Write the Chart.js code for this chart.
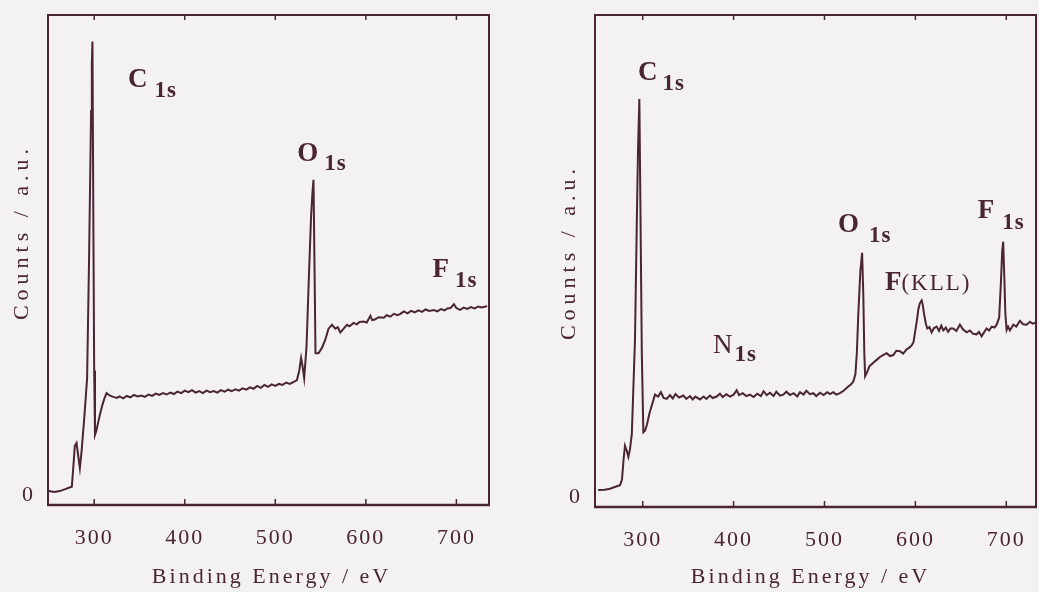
<!DOCTYPE html>
<html>
<head>
<meta charset="utf-8">
<title>XPS survey spectra</title>
<script src="https://cdn.jsdelivr.net/npm/chart.js@4.4.1/dist/chart.umd.min.js"></script>
<style>
  html, body { margin: 0; padding: 0; background: #f4f1f4; }
  #wrap { position: relative; width: 1039px; height: 592px; overflow: hidden; }
  canvas { position: absolute; top: 0; }
  #leftChart { left: 0; }
  #rightChart { left: 520px; }
</style>
</head>
<body>
<div id="wrap">
  <canvas id="leftChart" width="520" height="592"></canvas>
  <canvas id="rightChart" width="519" height="592"></canvas>
</div>
<script>
// axis ticks
const xTicks = [300, 400, 500, 600, 700];
const yTicks = [0];

// left spectrum: binding energy (eV) / counts (a.u.)
const leftEnergy = [
  250, 256, 262, 268, 272, 275.3, 277, 278.6, 280.5, 282.4,
  284.2, 286, 289, 292.2, 294.4, 296.6, 297.4, 298.1, 299, 300,
  300.9, 302.5, 304.5, 306.3, 309, 311.5, 313.7, 317, 321, 325,
  328, 332, 336, 340, 344, 348, 352, 356, 360, 364,
  368, 372, 376, 380, 384, 388, 392, 396, 400, 404,
  408, 412, 416, 420, 424, 428, 432, 436, 440, 444,
  448, 452, 456, 460, 464, 468, 472, 476, 480, 484,
  488, 492, 496, 500, 504, 508, 512, 516, 520, 523.9,
  526.5, 528.5, 530, 531.9, 534.5, 537, 539.5, 541, 542.2, 543.3,
  544.4, 547.7, 551.5, 555.2, 558.8, 562.6, 566.3, 569, 571.8, 575,
  579.2, 582, 586.5, 590, 593, 597.6, 601, 605, 607, 610,
  614, 619.8, 623, 627, 631, 635, 638.2, 642, 646, 650,
  654, 658, 662, 666, 670, 675, 679, 683, 687, 690,
  693.5, 697.2, 700, 704, 708, 712, 716, 720, 724, 728,
  734
];
const leftCounts = [
  0.9, 0.7, 0.9, 1.3, 1.6, 1.8, 6.0, 10.3, 10.9, 8.2,
  5.7, 9.0, 16.0, 24.4, 50.0, 80.0, 90.0, 94.5, 60.0, 26.0,
  12.6, 13.5, 15.3, 16.8, 18.8, 20.3, 21.3, 20.8, 20.5, 20.3,
  20.6, 20.2, 20.7, 20.4, 20.9, 20.6, 20.8, 20.5, 21.0, 20.7,
  21.2, 20.9, 21.3, 21.0, 21.4, 21.1, 21.6, 21.3, 21.8, 21.5,
  21.9, 21.4, 21.7, 21.3, 21.8, 21.5, 21.7, 21.4, 21.9, 21.6,
  22.0, 21.7, 22.1, 21.8, 22.3, 22.0, 22.5, 22.2, 22.8, 22.4,
  23.0, 22.6, 23.1, 22.8, 23.2, 23.0, 23.5, 23.2, 23.6, 24.0,
  26.0, 28.6, 27.0, 24.4, 31.0, 45.0, 58.0, 63.0, 65.7, 48.0,
  29.6, 29.6, 30.7, 32.4, 34.7, 35.5, 34.7, 35.0, 33.9, 34.6,
  35.5, 35.2, 35.9, 35.6, 36.1, 36.2, 36.0, 37.4, 36.5, 36.6,
  37.1, 37.0, 37.5, 37.2, 37.8, 37.5, 37.8, 38.3, 37.9, 38.4,
  38.1, 38.5, 38.2, 38.7, 38.4, 38.6, 38.3, 38.8, 38.5, 38.9,
  39.0, 39.8, 39.0, 38.6, 39.1, 38.8, 39.2, 38.9, 39.3, 39.1,
  39.4
];

// right spectrum
const rightEnergy = [
  251, 258, 264, 270, 275, 277.2, 279, 280.5, 282.7, 284.2,
  286, 288, 291.5, 293.4, 294.8, 296.3, 297.5, 299, 300.7, 302.5,
  304.7, 307.5, 310.2, 313.5, 317, 320, 323, 326.4, 330, 333,
  336, 340, 344.7, 348, 352, 355, 358, 363, 367, 370,
  374, 377, 381.4, 385, 388, 392, 396, 400, 403.4, 406,
  410, 414, 418, 422, 426, 430, 433, 436.4, 440, 444,
  447, 451, 454.7, 458, 462, 466, 470, 473, 477, 480,
  484, 487.7, 491, 495, 499, 503, 506, 509.7, 513, 517,
  521, 524, 526.2, 529, 531.7, 534, 535.6, 537.2, 539.5, 541.4,
  542.7, 543.8, 544.7, 547, 549.5, 553.7, 557.4, 561, 564.5, 568.4,
  572, 575.7, 579, 583, 586.5, 590.4, 593, 595.9, 598, 599.6,
  601.5, 603.2, 604.8, 606.9, 608, 609.5, 611.5, 613.1, 615.5, 617.9,
  620.5, 623.4, 626, 628.5, 630.7, 633.5, 636, 638.5, 641.7, 645,
  649, 652.5, 656.4, 660, 663.5, 667.4, 670, 672.9, 675.5, 678.4,
  681, 684, 687, 689.4, 692.2, 694.2, 695.5, 696.6, 697.8, 699,
  700.4, 702, 704, 707.7, 711, 715, 718.5, 722.4, 726, 729,
  731.6
];
const rightCounts = [
  1.5, 1.6, 1.8, 2.2, 2.5, 3.7, 8.0, 10.7, 9.5, 8.4,
  10.0, 13.1, 32.7, 56.0, 71.8, 82.6, 60.0, 30.0, 13.5, 13.8,
  15.1, 17.5, 19.2, 21.3, 20.9, 21.8, 20.6, 20.4, 21.2, 20.5,
  21.4, 20.7, 21.1, 20.4, 21.0, 20.3, 20.9, 20.3, 20.9, 20.4,
  21.1, 20.6, 20.9, 21.5, 20.8, 21.4, 20.9, 21.3, 22.2, 21.2,
  21.6, 21.0, 21.3, 20.8, 21.5, 21.0, 22.0, 21.2, 21.7, 21.0,
  21.9, 21.1, 21.3, 21.9, 21.2, 21.6, 20.9, 21.8, 21.3, 22.1,
  21.4, 21.6, 21.0, 21.7, 21.2, 21.8, 21.4, 21.8, 21.3, 21.6,
  22.1, 22.6, 23.0, 23.4, 24.0, 25.5, 30.0, 38.0, 47.0, 50.7,
  42.0, 30.0, 25.1, 26.0, 27.2, 27.9, 28.5, 29.1, 29.5, 29.9,
  29.3, 29.5, 30.4, 30.3, 29.8, 30.7, 31.0, 31.5, 32.2, 34.2,
  36.5, 38.9, 40.2, 40.8, 40.0, 38.1, 36.0, 35.0, 35.3, 34.2,
  35.1, 35.4, 34.5, 35.6, 34.6, 35.2, 34.3, 35.0, 35.0, 34.5,
  35.8, 34.8, 34.2, 34.6, 33.9, 33.8, 34.3, 33.4, 34.2, 35.0,
  34.6, 35.4, 35.2, 35.8, 37.3, 45.0, 51.0, 53.0, 46.0, 38.0,
  34.7, 35.4, 34.6, 35.8, 35.4, 36.6, 35.9, 35.8, 36.4, 36.0,
  36.2
];

// peak assignments, anchored in eV / counts
const leftPeaks = [
  { main: 'C', sub: '1s', x: 337.3, y: 85.0, gap: 7, drop: 10 },
  { main: 'O', sub: '1s', x: 524.2, y: 69.6, gap: 6, drop: 9 },
  { main: 'F', sub: '1s', x: 673.6, y: 45.5, gap: 6, drop: 10 }
];
const rightPeaks = [
  { main: 'C', sub: '1s', x: 294.8, y: 86.5, gap: 5, drop: 10 },
  { main: 'N', sub: '1s', x: 377.4, y: 30.0, gap: 2, drop: 8, plain: true },
  { main: 'O', sub: '1s', x: 514.9, y: 55.1, gap: 10, drop: 10 },
  { main: 'F', sub: '(KLL)', x: 566.5, y: 43.0, gap: 0, drop: 0, small: true },
  { main: 'F', sub: '1s', x: 668.7, y: 58.0, gap: 8, drop: 11 }
];

const ink = '#4a2532';
const serif = '"Liberation Serif", "Times New Roman", serif';

function drawPeakLabel(ctx, px, py, p) {
  ctx.letterSpacing = '0px';
  ctx.font = (p.plain ? '' : 'bold ') + '27px ' + serif;
  ctx.fillText(p.main, px, py);
  const w = ctx.measureText(p.main).width;
  ctx.font = (p.small ? '' : 'bold ') + '23px ' + serif;
  ctx.letterSpacing = p.small ? '2px' : '1px';
  ctx.fillText(p.sub, px + w + p.gap, py + p.drop);
}

// box frame, inward ticks, peak labels and spaced axis titles
const framePlugin = {
  id: 'frame',
  beforeDraw(chart) {
    chart.ctx.letterSpacing = '2px';
  },
  afterDraw(chart, args, opts) {
    const { ctx, chartArea: a, scales: { x, y } } = chart;
    ctx.save();
    ctx.strokeStyle = ink;
    ctx.lineWidth = 2;
    ctx.strokeRect(a.left, a.top, a.width, a.height);
    ctx.lineWidth = 2.6;
    ctx.beginPath();
    ctx.moveTo(a.left - 1, a.bottom);
    ctx.lineTo(a.right + 1, a.bottom);
    ctx.stroke();

    ctx.lineWidth = 1.5;
    ctx.beginPath();
    x.ticks.forEach(t => {
      const px = x.getPixelForValue(t.value);
      ctx.moveTo(px, a.bottom);
      ctx.lineTo(px, a.bottom - 6);
      ctx.moveTo(px, a.top);
      ctx.lineTo(px, a.top + 5);
    });
    ctx.stroke();

    ctx.fillStyle = ink;
    ctx.textAlign = 'left';
    ctx.textBaseline = 'alphabetic';
    (opts.peaks || []).forEach(p => {
      drawPeakLabel(ctx, x.getPixelForValue(p.x), y.getPixelForValue(p.y), p);
    });

    ctx.font = '22px ' + serif;
    ctx.letterSpacing = '3px';
    ctx.textAlign = 'center';
    ctx.textBaseline = 'middle';
    ctx.fillText('Binding Energy / eV', (a.left + a.right) / 2 + opts.xTitleShift, 577);

    ctx.letterSpacing = '5px';
    ctx.translate(a.left - 26, (a.top + a.bottom) / 2 + opts.yTitleShift);
    ctx.rotate(-Math.PI / 2);
    ctx.fillText('Counts / a.u.', 0, 0);
    ctx.restore();
  }
};

function makeSpectrum(id, energy, counts, o) {
  const points = energy.map((e, i) => ({ x: e, y: counts[i] }));
  return new Chart(document.getElementById(id), {
    type: 'line',
    data: {
      datasets: [{
        data: points,
        borderColor: ink,
        borderWidth: 2,
        pointRadius: 0,
        tension: 0,
        fill: false
      }]
    },
    options: {
      responsive: false,
      animation: false,
      events: [],
      layout: { padding: { top: 15, right: o.padRight, left: 0, bottom: 0 } },
      scales: {
        x: {
          type: 'linear',
          min: o.xMin,
          max: o.xMax,
          grid: { display: false, drawTicks: false },
          border: { display: false },
          afterBuildTicks: s => { s.ticks = xTicks.map(v => ({ value: v })); },
          afterFit: s => {
            s.height = o.xAxisHeight;
            s.paddingLeft = 0;
            s.paddingRight = 0;
          },
          ticks: {
            autoSkip: false,
            maxRotation: 0,
            padding: 20,
            color: ink,
            font: { family: serif, size: 22 },
            callback: v => String(v)
          }
        },
        y: {
          min: -2,
          max: 100,
          grid: { display: false, drawTicks: false },
          border: { display: false },
          afterBuildTicks: s => { s.ticks = yTicks.map(v => ({ value: v })); },
          afterFit: s => {
            s.width = o.yAxisWidth;
            s.paddingTop = 0;
            s.paddingBottom = 0;
          },
          ticks: {
            padding: 13,
            color: ink,
            font: { family: serif, size: 22 },
            callback: v => String(v)
          }
        }
      },
      plugins: {
        legend: { display: false },
        tooltip: { enabled: false },
        frame: { peaks: o.peaks, xTitleShift: o.xTitleShift, yTitleShift: o.yTitleShift }
      }
    },
    plugins: [framePlugin]
  });
}

makeSpectrum('leftChart', leftEnergy, leftCounts, {
  xMin: 249, xMax: 736, padRight: 31, yAxisWidth: 48, xAxisHeight: 87,
  peaks: leftPeaks, xTitleShift: 3, yTitleShift: -28
});
makeSpectrum('rightChart', rightEnergy, rightCounts, {
  xMin: 247.5, xMax: 732.7, padRight: 3, yAxisWidth: 75, xAxisHeight: 85,
  peaks: rightPeaks, xTitleShift: -5, yTitleShift: -9
});
</script>
</body>
</html>
